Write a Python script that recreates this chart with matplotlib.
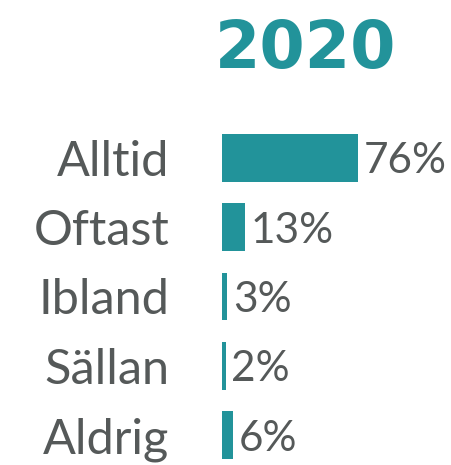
import matplotlib
matplotlib.use("Agg")
import matplotlib.pyplot as plt

categories = ["Alltid", "Oftast", "Ibland", "Sällan", "Aldrig"]
values = [76, 13, 3, 2, 6]
value_labels = ["76%", "13%", "3%", "2%", "6%"]
title = "2020"

W, H = 451, 465
DPI = 100
TEAL = "#22939a"
GRAY = "#555959"

plt.rcParams["font.family"] = ["Lato", "DejaVu Sans"]

fig = plt.figure(figsize=(W / DPI, H / DPI), dpi=DPI)
fig.patch.set_facecolor("white")

# axes placement in pixels
left_px, top_px, bottom_px = 222, 123, 465
ax = fig.add_axes([left_px / W, 0, 179 / W, (bottom_px - top_px) / H])
ax.set_xlim(0, 100)
ax.set_ylim(4.433, -0.505)
ax.axis("off")

ypos = list(range(len(categories)))
ax.barh(ypos, values, height=0.69, color=TEAL, edgecolor="none")

for y, v, lab, cat in zip(ypos, values, value_labels, categories):
    ax.annotate(lab, (v, y), xytext=(4, 0), textcoords="offset points",
                ha="left", va="center_baseline", fontsize=30.5, color=GRAY)
    ax.annotate(cat, (0, y), xytext=(-38, 0), textcoords="offset points",
                ha="right", va="center_baseline", fontsize=35, color=GRAY,
                annotation_clip=False)

fig.text(306 / W, 1 - 68 / H, title, ha="center", va="baseline",
         fontsize=47, fontweight="bold", color=TEAL, family="DejaVu Sans")

fig.savefig("out.png", dpi=DPI, facecolor="white")
